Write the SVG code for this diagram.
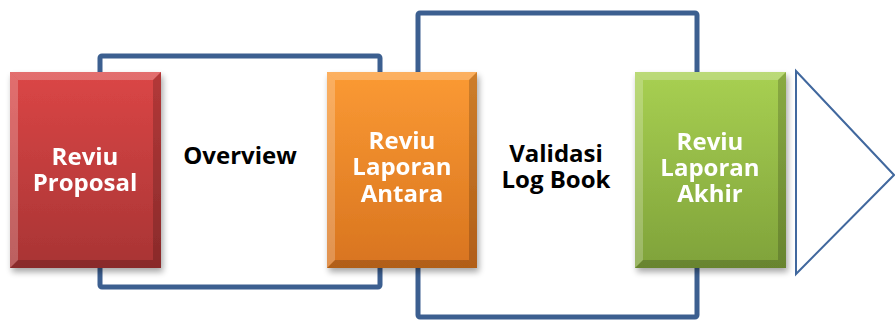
<svg xmlns="http://www.w3.org/2000/svg" width="895" height="320" viewBox="0 0 895 320">
<defs>
<linearGradient id="gRed" x1="0" y1="0" x2="0" y2="1">
<stop offset="0" stop-color="#db4646"/><stop offset="1" stop-color="#a83434"/>
</linearGradient>
<linearGradient id="gOrange" x1="0" y1="0" x2="0" y2="1">
<stop offset="0" stop-color="#fb9a34"/><stop offset="1" stop-color="#d8741f"/>
</linearGradient>
<linearGradient id="gGreen" x1="0" y1="0" x2="0" y2="1">
<stop offset="0" stop-color="#a8d052"/><stop offset="1" stop-color="#7fa23a"/>
</linearGradient>
<filter id="shadow" x="-20%" y="-20%" width="140%" height="140%">
<feGaussianBlur in="SourceAlpha" stdDeviation="3"/>
<feOffset dx="2" dy="4" result="b"/>
<feComponentTransfer><feFuncA type="linear" slope="0.35"/></feComponentTransfer>
<feMerge><feMergeNode/><feMergeNode in="SourceGraphic"/></feMerge>
</filter>
</defs>
<style>
.frame{fill:none;stroke:#3c5f90;stroke-width:5;stroke-linejoin:round}
.lbl{font-family:"Open Sans","Liberation Sans",sans-serif;font-weight:bold;font-size:24px;text-anchor:middle}
.w{fill:#ffffff}
.k{fill:#000000}
.hl{fill:#ffffff;opacity:0.22}
.dk{fill:#000000;opacity:0.18}
</style>
<g id="connectors">
<rect class="frame" x="100" y="56" width="280" height="231" rx="2"/>
<rect class="frame" x="418" y="13" width="279" height="304" rx="2"/>
</g>
<g id="node-reviu-proposal" filter="url(#shadow)">
<rect x="10" y="72" width="151" height="196" fill="url(#gRed)"/>
<polygon class="hl" points="10,72 161,72 153,80 18,80"/>
<polygon class="hl" points="10,72 18,80 18,260 10,268" opacity="0.12"/>
<polygon class="dk" points="161,72 161,268 153,260 153,80"/>
<polygon class="dk" points="10,268 161,268 153,260 18,260"/>
<text class="lbl w" x="85" y="165">Reviu</text>
<text class="lbl w" x="85" y="191">Proposal</text>
</g>
<g id="node-overview">
<text class="lbl k" x="240" y="164">Overview</text>
</g>
<g id="node-reviu-laporan-antara" filter="url(#shadow)">
<rect x="327" y="72" width="150" height="196" fill="url(#gOrange)"/>
<polygon class="hl" points="327,72 477,72 469,80 335,80"/>
<polygon class="hl" points="327,72 335,80 335,260 327,268" opacity="0.12"/>
<polygon class="dk" points="477,72 477,268 469,260 469,80"/>
<polygon class="dk" points="327,268 477,268 469,260 335,260"/>
<text class="lbl w" x="402" y="149">Reviu</text>
<text class="lbl w" x="402" y="175">Laporan</text>
<text class="lbl w" x="402" y="202">Antara</text>
</g>
<g id="node-validasi-log-book">
<text class="lbl k" x="556" y="162">Validasi</text>
<text class="lbl k" x="556" y="188">Log Book</text>
</g>
<g id="node-reviu-laporan-akhir" filter="url(#shadow)">
<rect x="635" y="72" width="151" height="196" fill="url(#gGreen)"/>
<polygon class="hl" points="635,72 786,72 778,80 643,80"/>
<polygon class="hl" points="635,72 643,80 643,260 635,268" opacity="0.12"/>
<polygon class="dk" points="786,72 786,268 778,260 778,80"/>
<polygon class="dk" points="635,268 786,268 778,260 643,260"/>
<text class="lbl w" x="710" y="150">Reviu</text>
<text class="lbl w" x="710" y="176">Laporan</text>
<text class="lbl w" x="710" y="202">Akhir</text>
</g>
<g id="node-arrow">
<polygon points="796,71 894,175 796,274" fill="#ffffff" stroke="#41689e" stroke-width="2" stroke-linejoin="miter"/>
</g>
</svg>
